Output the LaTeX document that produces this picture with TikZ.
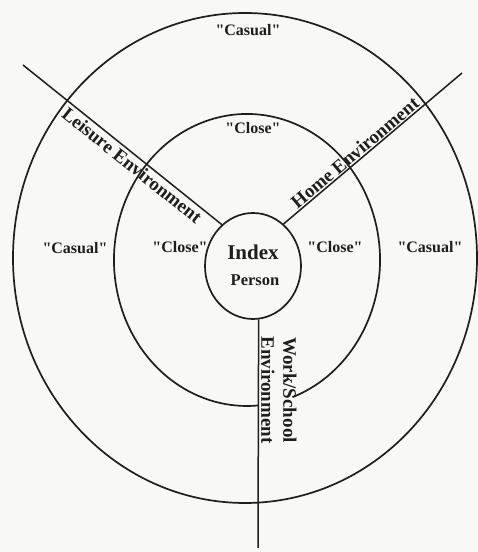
\documentclass[tikz,border=0pt]{standalone}
\usepackage{fontspec}
\setmainfont{Liberation Serif}[Ligatures=TeXOff]
\usetikzlibrary{shapes.geometric}
\definecolor{paper}{RGB}{248,248,246}
\definecolor{ink}{RGB}{30,30,30}
\begin{document}
\begin{tikzpicture}[x=1pt,y=1pt,
  ring/.style={line width=1.7pt, draw=ink},
  spoke/.style={line width=1.5pt, draw=ink},
  zonelabel/.style={font=\bfseries\fontsize{16}{19}\selectfont, text=ink, inner sep=0pt},
  envlabel/.style={font=\bfseries\fontsize{19}{22}\selectfont, text=ink, inner sep=1pt},
]
\fill[paper] (0,0) rectangle (478,552);
\useasboundingbox (0,0) rectangle (478,552);
% outer and middle rings
\draw[ring] (245,294) ellipse[x radius=232, y radius=245];
\draw[ring] ([shift={(-70:133 and 146)}]247,292) arc[start angle=-70, end angle=274.7, x radius=133, y radius=146];
% index person
\node[ellipse, ring, minimum width=96pt, minimum height=106pt, inner sep=0pt] (inner) at (253,286) {};
\node[font=\bfseries\fontsize{21}{24}\selectfont, text=ink] (index) at (253,300) {Index};
\node[font=\bfseries\fontsize{16.5}{19}\selectfont, text=ink] (person) at (255,272) {Person};
% spokes
\coordinate (leisureEnd) at (23,487);
\coordinate (homeEnd) at (462,479);
\coordinate (workEnd) at (258,4);
\draw[spoke] (leisureEnd) -- (inner.127.5) node[envlabel, pos=0.58, sloped, below=1.5pt] (leisure) {Leisure Environment};
\draw[spoke] (homeEnd) -- (inner.54) node[envlabel, pos=0.57, sloped, above] (home) {Home Environment};
\draw[spoke] (inner.-84) -- (workEnd);
\node[envlabel, rotate=-90, anchor=south, align=center] (work) at (260,162) {Work/School\\Environment};
% zone labels
\node[zonelabel] (casualTop) at (248,522) {"Casual"};
\node[zonelabel] (closeTop) at (253,424) {"Close"};
\node[zonelabel] (casualLeft) at (75,304) {"Casual"};
\node[zonelabel] (closeLeft) at (180,305) {"Close"};
\node[zonelabel] (closeRight) at (335,305) {"Close"};
\node[zonelabel] (casualRight) at (430,305) {"Casual"};
\end{tikzpicture}
\end{document}
